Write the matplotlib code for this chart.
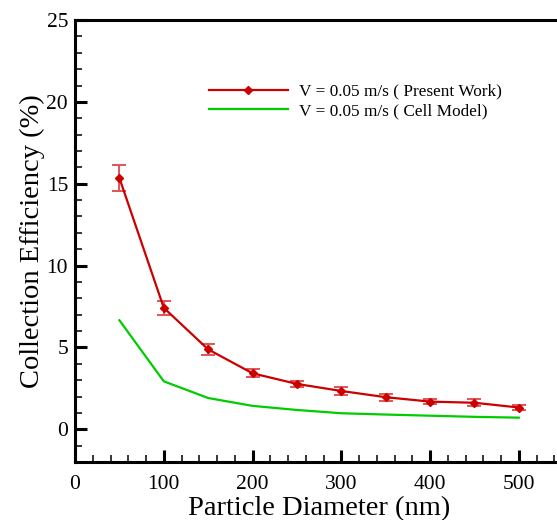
import numpy as np
import matplotlib.pyplot as plt
from matplotlib.ticker import MultipleLocator

plt.rcParams['font.family'] = ['Liberation Serif', 'DejaVu Serif']

diam = [50, 100, 150, 200, 250, 300, 350, 400, 450, 500]
present = [15.35, 7.42, 4.88, 3.42, 2.77, 2.34, 1.96, 1.69, 1.62, 1.33]
present_err = [0.78, 0.42, 0.35, 0.25, 0.18, 0.22, 0.22, 0.17, 0.21, 0.17]
cell = [6.66, 2.93, 1.91, 1.43, 1.18, 0.98, 0.90, 0.83, 0.76, 0.71]

fig = plt.figure(figsize=(5.57, 5.20), dpi=100)
ax = fig.add_axes([0.1347, 0.1115, 0.8764, 0.85])

ax.errorbar(diam, present, yerr=present_err, fmt='none', ecolor='#e05555',
            elinewidth=1.4, capsize=5, capthick=1.4, zorder=2)
ax.plot(diam, present, color='#cc0000', lw=1.6, marker='D', ms=4.5,
        label='V = 0.05 m/s ( Present Work)', zorder=3)
ax.plot(diam, cell, color='#00cc00', lw=1.6, label='V = 0.05 m/s ( Cell Model)')

ax.set_xlim(0, 550)
ax.set_ylim(-2, 25)
ax.xaxis.set_major_locator(MultipleLocator(100))
ax.xaxis.set_minor_locator(MultipleLocator(20))
ax.yaxis.set_major_locator(MultipleLocator(5))
ax.yaxis.set_minor_locator(MultipleLocator(1))
ax.tick_params(which='major', direction='in', length=8.6, width=2.2, labelsize=15.5)
ax.tick_params(which='minor', direction='in', length=5, width=1.1)
ax.tick_params(axis='x', which='major', pad=9.5)
ax.tick_params(axis='y', which='major', pad=5)
for s in ax.spines.values():
    s.set_linewidth(2.2)

ax.set_xlabel('Particle Diameter (nm)', fontsize=20.5, labelpad=1.5)
ax.set_ylabel('Collection Efficiency (%)', fontsize=20.5, labelpad=1)

ax.legend(loc='center left', bbox_to_anchor=(0.274, 0.816), frameon=False,
          fontsize=12.4, handlelength=4.6, handletextpad=0.64, labelspacing=0.21,
          borderpad=0, borderaxespad=0, numpoints=1)

fig.savefig('out.png', dpi=100)
